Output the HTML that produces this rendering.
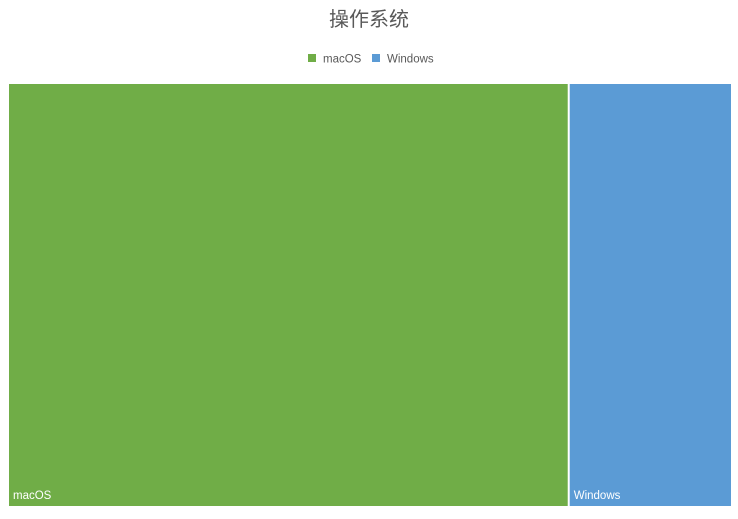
<!DOCTYPE html>
<html><head><meta charset="utf-8"><style>
body{margin:0;background:#fff;width:738px;height:514px;overflow:hidden;font-family:"Liberation Sans","Noto Sans CJK SC",sans-serif}
</style></head><body>
<svg width="738" height="514">
<text x="369" y="26" text-anchor="middle" font-size="20" fill="#595959" font-family="Liberation Sans, Noto Sans CJK SC, sans-serif">操作系统</text>
<g>
<rect x="308" y="54" width="8" height="8" fill="#70AD47"/>
<text x="323" y="62.5" font-size="11.5" fill="#595959">macOS</text>
<rect x="372" y="54" width="8" height="8" fill="#5B9BD5"/>
<text x="387" y="62.5" font-size="11.5" fill="#595959">Windows</text>
</g>
<g id="plot"></g>
</svg>
<script>
const categories=["macOS","Windows"];
const values=[77.6,22.4];
const colors=["#70AD47","#5B9BD5"];
const X0=9,X1=731,Y0=84,Y1=506,GAP=2;
const total=values.reduce((a,b)=>a+b,0);
const avail=(X1-X0)-GAP*(values.length-1);
const g=document.getElementById('plot');
const ns="http://www.w3.org/2000/svg";
let x=X0;
values.forEach((v,i)=>{
  const w=avail*v/total;
  const r=document.createElementNS(ns,'rect');
  r.setAttribute('x',x);r.setAttribute('y',Y0);r.setAttribute('width',w);r.setAttribute('height',Y1-Y0);r.setAttribute('fill',colors[i]);
  
  
  g.appendChild(r);
  const t=document.createElementNS(ns,'text');
  t.setAttribute('x',x+4);t.setAttribute('y',Y1-7);t.setAttribute('font-size','11.5');t.setAttribute('fill','#fff');
  t.textContent=categories[i];
  
  
  g.appendChild(t);
  x+=w+GAP;
});
</script>
</body></html>
